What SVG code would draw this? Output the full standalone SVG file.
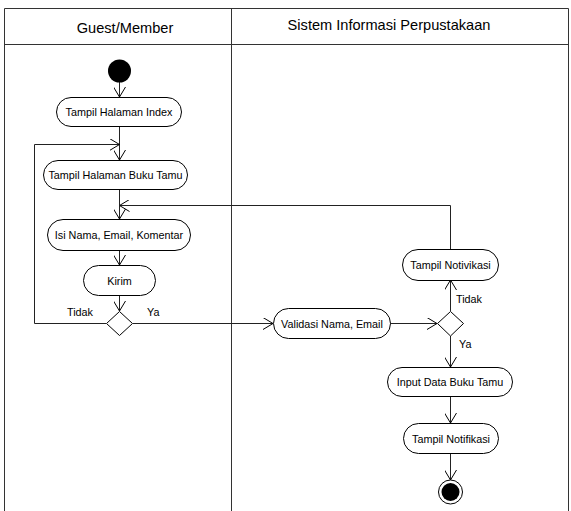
<svg xmlns="http://www.w3.org/2000/svg" width="571" height="511" viewBox="0 0 571 511">
<style>
.frame{fill:none;stroke:#333;stroke-width:1}
.node{fill:#fff;stroke:#000;stroke-width:1}
.lbl{font-family:"Liberation Sans",Arial,sans-serif;font-size:10.8px;fill:#000;text-anchor:middle}
.hdr{font-family:"Liberation Sans",Arial,sans-serif;font-size:14.6px;fill:#000;text-anchor:middle}
.edge{fill:none;stroke:#222;stroke-width:1}
.elbl{font-family:"Liberation Sans",Arial,sans-serif;font-size:10.8px;fill:#000}
</style>
<defs>
<marker id="arr" viewBox="0 0 10 12" markerWidth="10" markerHeight="12" refX="10" refY="6" orient="auto" markerUnits="userSpaceOnUse">
<path d="M0,0 L10,6 L0,12" fill="none" stroke="#000" stroke-width="1"/>
</marker>
</defs>
<rect width="571" height="511" fill="#fff"/>
<g id="swimlanes">
<path class="frame" d="M4.5,511 V8.5 H568.5 V511 M4.5,44.5 H568.5 M231.5,8.5 V511"/>
<text class="hdr" x="125" y="33">Guest/Member</text>
<text class="hdr" x="389" y="30">Sistem Informasi Perpustakaan</text>
</g>
<g id="connectors">
<path class="edge" d="M119.5,82 V97" marker-end="url(#arr)"/>
<path class="edge" d="M119.5,126 V160" marker-end="url(#arr)"/>
<path class="edge" d="M106,323.5 H34.5 V144.5 H119.5" marker-end="url(#arr)"/>
<path class="edge" d="M119.5,189 V219" marker-end="url(#arr)"/>
<path class="edge" d="M119.5,250 V265" marker-end="url(#arr)"/>
<path class="edge" d="M119.5,295 V311" marker-end="url(#arr)"/>
<path class="edge" d="M133,323.5 H273" marker-end="url(#arr)"/>
<path class="edge" d="M390,323.5 H437" marker-end="url(#arr)"/>
<path class="edge" d="M450.5,311 V280" marker-end="url(#arr)"/>
<path class="edge" d="M450.5,249 V205.5 H119.5" marker-end="url(#arr)"/>
<path class="edge" d="M450.5,336 V367" marker-end="url(#arr)"/>
<path class="edge" d="M450.5,396 V423" marker-end="url(#arr)"/>
<path class="edge" d="M450.5,453 V480" marker-end="url(#arr)"/>
<text class="elbl" x="67" y="316">Tidak</text>
<text class="elbl" x="147" y="316">Ya</text>
<text class="elbl" x="456" y="303">Tidak</text>
<text class="elbl" x="459" y="348">Ya</text>
</g>
<g id="start"><circle cx="119.5" cy="71" r="11.5" fill="#000"/></g>
<g id="index"><rect class="node" x="56.5" y="97.5" width="125" height="29" rx="14.5"/><text class="lbl" x="119" y="116">Tampil Halaman Index</text></g>
<g id="bukutamu"><rect class="node" x="43.5" y="160.5" width="144" height="29" rx="14.5"/><text class="lbl" x="115.5" y="179">Tampil Halaman Buku Tamu</text></g>
<g id="isi"><rect class="node" x="47.5" y="219.5" width="143" height="31" rx="15.5"/><text class="lbl" x="119" y="239">Isi Nama, Email, Komentar</text></g>
<g id="kirim"><rect class="node" x="83.5" y="265.5" width="72" height="30" rx="15"/><text class="lbl" x="119.5" y="284.5">Kirim</text></g>
<g id="decision1"><polygon class="node" points="119.5,311.5 132.5,323.5 119.5,335.5 106.5,323.5"/></g>
<g id="validasi"><rect class="node" x="273.5" y="308.5" width="117" height="30" rx="15"/><text class="lbl" x="332" y="327.5">Validasi Nama, Email</text></g>
<g id="decision2"><polygon class="node" points="450.5,311.5 463.5,323.5 450.5,336 437.5,323.5"/></g>
<g id="notivikasi"><rect class="node" x="402.5" y="249.5" width="96" height="31" rx="15.5"/><text class="lbl" x="450.5" y="269">Tampil Notivikasi</text></g>
<g id="input"><rect class="node" x="387.5" y="367.5" width="125" height="29" rx="14.5"/><text class="lbl" x="450" y="386">Input Data Buku Tamu</text></g>
<g id="notifikasi"><rect class="node" x="403.5" y="423.5" width="95" height="30" rx="15"/><text class="lbl" x="451" y="442.5">Tampil Notifikasi</text></g>
<g id="end"><circle cx="450.5" cy="492" r="12" fill="#fff" stroke="#000" stroke-width="1"/><circle cx="450.5" cy="492" r="9" fill="#000"/></g>
</svg>
